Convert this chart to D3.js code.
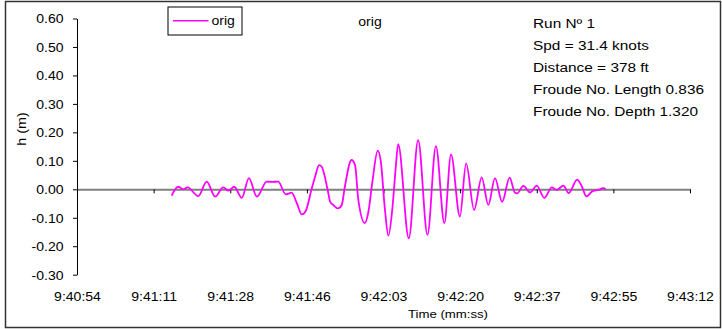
<!DOCTYPE html>
<html>
<head>
<meta charset="utf-8">
<script src="https://cdn.jsdelivr.net/npm/d3@7"></script>
<style>
  html, body { margin: 0; padding: 0; background: #fff; }
  svg text { font-family: "Liberation Sans", Arial, sans-serif; fill: #000; }
</style>
</head>
<body>
<svg id="chart" width="722" height="329"></svg>
<script>
// ---- data (time in seconds after 9:40:54, wave height in metres) ----
const seconds = [21.3, 22.8, 23.9, 24.9, 27.3, 29.2, 31.1, 32.9, 34.1, 35.4, 37.1, 38.7, 40.5, 42.7, 43.9, 45.3,
  47.0, 48.3, 49.5, 50.6, 51.5, 52.8, 53.6, 54.5, 55.1, 56.4, 57.0, 57.7, 58.7, 59.6, 60.3, 61.8, 62.6, 63.3,
  64.8, 65.6, 66.5, 67.7, 68.4, 69.3, 70.1, 71.0, 71.8, 72.3, 74.7, 76.8, 78.9, 80.8, 82.7, 84.2, 86.2, 87.6,
  89.4, 91.1, 92.6, 94.1, 95.7, 97.4, 98.6, 99.1, 100.5, 102.0, 103.5, 105.2, 106.9, 108.0, 109.5, 110.7,
  112.6, 113.6, 114.7, 115.9, 117.4, 118.5, 119.0];
const heights = [-0.022, 0.009, 0.000, 0.007, -0.024, 0.027, -0.026, 0.007, -0.005, 0.009, -0.030, 0.039, -0.026, 0.027, 0.026, 0.027,
  -0.018, -0.012, -0.049, -0.088, -0.076, 0.000, 0.044, 0.085, 0.079, 0.000, -0.044, -0.055, -0.067, -0.055, 0.009, 0.103, 0.085, -0.033,
  -0.119, -0.079, 0.027, 0.136, 0.097, -0.067, -0.163, -0.067, 0.085, 0.159, -0.172, 0.173, -0.160, 0.152, -0.119, 0.123, -0.096, 0.091,
  -0.073, 0.042, -0.055, 0.039, -0.044, 0.041, -0.012, -0.014, 0.012, -0.011, 0.013, -0.030, 0.007, -0.002, 0.013, -0.013,
  0.034, 0.012, -0.025, -0.008, -0.002, 0.004, 0.000];
const seriesName = "orig";
const chartTitle = "orig";
const xTickSeconds = [0, 17.25, 34.5, 51.75, 69, 86.25, 103.5, 120.75, 138];
const xTickLabels = ["9:40:54", "9:41:11", "9:41:28", "9:41:46", "9:42:03", "9:42:20", "9:42:37", "9:42:55", "9:43:12"];
const yTicks = [-0.3, -0.2, -0.1, 0, 0.1, 0.2, 0.3, 0.4, 0.5, 0.6];
const xTitle = "Time (mm:ss)";
const yTitle = "h (m)";
const notes = ["Run N\u00BA 1", "Spd = 31.4 knots", "Distance = 378 ft", "Froude No. Length 0.836", "Froude No. Depth 1.320"];

// ---- layout ----
const SX = 1.08; // slight horizontal text stretch of the original picture
const svg = d3.select("#chart");
svg.append("rect").attr("width", 722).attr("height", 329).attr("fill", "#fff");
svg.append("rect").attr("x", 5.5).attr("y", 1.5).attr("width", 715).attr("height", 326)
  .attr("fill", "none").attr("stroke", "#333").attr("stroke-width", 1.5);

const x = d3.scaleLinear().domain([0, 138]).range([77, 690]);
const y = d3.scaleLinear().domain([-0.3, 0.6]).range([274.7, 18.5]);

// y axis
const yAxis = svg.append("g").attr("transform", "translate(77,0)")
  .call(d3.axisLeft(y).tickValues(yTicks).tickSize(4).tickSizeOuter(0).tickFormat(d => d.toFixed(2)));
yAxis.select(".domain").attr("stroke", "#000");
yAxis.selectAll(".tick line").attr("stroke", "#000");
yAxis.selectAll(".tick text").attr("x", 0).attr("dy", "0.34em")
  .attr("font-size", 13).attr("font-family", null)
  .attr("transform", `translate(-13.5,0) scale(${SX},1)`);

// zero line with ticks
const xAxis = svg.append("g").attr("transform", `translate(0,${y(0)})`)
  .call(d3.axisBottom(x).tickValues(xTickSeconds).tickSize(4).tickSizeOuter(0).tickFormat(""));
xAxis.select(".domain").attr("stroke", "#808080").attr("stroke-width", 2);
xAxis.selectAll(".tick line").attr("stroke", "#000");

// x tick labels at bottom
const xLab = svg.append("g").attr("transform", "translate(0,290)")
  .call(d3.axisBottom(x).tickValues(xTickSeconds).tickSize(0).tickFormat((d, i) => xTickLabels[i]));
xLab.select(".domain").remove();
xLab.selectAll(".tick text").attr("y", 0).attr("dy", "11px").attr("font-size", 13).attr("font-family", null)
  .attr("transform", `scale(${SX},1)`);

// axis titles
svg.append("text").attr("transform", `translate(448,317.5) scale(1.2,1)`)
  .attr("text-anchor", "middle").attr("font-size", 11).text(xTitle);
svg.append("text").attr("transform", "translate(26,129) rotate(-90) scale(1.1,1)")
  .attr("text-anchor", "middle").attr("font-size", 13).text(yTitle);

// series line
const pts = seconds.map((s, i) => [s, heights[i]]);
svg.append("path").datum(pts)
  .attr("fill", "none").attr("stroke", "#FF00FF").attr("stroke-width", 1.8)
  .attr("stroke-linejoin", "round")
  .attr("d", d3.line().x(d => x(d[0])).y(d => y(d[1])).curve(d3.curveMonotoneX));

// title
svg.append("text").attr("transform", `translate(370,25.5) scale(${SX},1)`)
  .attr("text-anchor", "middle").attr("font-size", 13).text(chartTitle);

// legend
const lg = svg.append("g");
lg.append("rect").attr("x", 168).attr("y", 7).attr("width", 74).attr("height", 28)
  .attr("fill", "#fff").attr("stroke", "#000").attr("stroke-width", 1);
lg.append("line").attr("x1", 173).attr("x2", 208.5).attr("y1", 20.7).attr("y2", 20.7)
  .attr("stroke", "#FF00FF").attr("stroke-width", 1.5);
lg.append("text").attr("transform", `translate(211.5,25) scale(${SX},1)`)
  .attr("font-size", 13).text(seriesName);

// notes
svg.append("g").selectAll("text").data(notes).join("text")
  .attr("transform", (d, i) => `translate(533,${28 + i * 22}) scale(1.14,1)`)
  .attr("font-size", 13.5).text(d => d);
</script>
</body>
</html>
